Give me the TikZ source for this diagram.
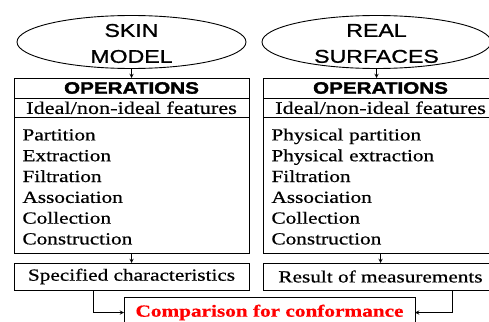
\documentclass[tikz,border=0pt]{standalone}
\usepackage{fontspec}
\setmainfont{Liberation Serif}[FakeStretch=1.25, FakeBold=0.6]
\newfontfamily\modelfont{Liberation Sans}[FakeStretch=1.25, FakeBold=1]
\newfontfamily\opsfont{Liberation Sans}[FakeStretch=1.25, UprightFont={* Bold}, FakeBold=2]
\usetikzlibrary{shapes,arrows,positioning}

\begin{document}
\begin{tikzpicture}[
    x=1pt, y=-1pt,
    every node/.style={outer sep=0pt},
    model/.style={ellipse, draw, line width=0.9pt, minimum width=229pt, minimum height=53pt, inner sep=0pt},
    modeltext/.style={align=center, inner sep=0pt, font=\modelfont\fontsize{18.5}{26}\selectfont},
    header/.style={rectangle, draw, line width=1pt, minimum width=235pt, minimum height=20pt, inner sep=0pt, font=\opsfont\fontsize{16.5}{18}\selectfont},
    feature/.style={rectangle, draw, line width=1pt, minimum width=235pt, minimum height=19.5pt, inner sep=0pt, font=\fontsize{17.8}{20}\selectfont},
    oplist/.style={rectangle, draw, line width=1pt, minimum height=135.5pt, text width=218pt, inner xsep=8.5pt, align=left, font=\fontsize{17}{20.8}\selectfont},
    outcome/.style={rectangle, draw, line width=1pt, minimum width=235pt, minimum height=27pt, inner sep=0pt, font=\fontsize{17}{20}\selectfont},
    verdict/.style={rectangle, draw, line width=1pt, minimum width=291pt, minimum height=31pt, inner sep=0pt, text=red, font=\bfseries\fontsize{17}{20}\selectfont},
    arrow/.style={->, >=stealth, line width=0.9pt}
]
\useasboundingbox (0,0) rectangle (489,321);
\clip (0,0) rectangle (489,321);

% the two sources
\node[model] (skin) at (131.5,42) {};
\node[modeltext] (skinname) at ([yshift=-1.5pt]skin) {SKIN\\MODEL};
\node[model] (real) at (376.5,42) {};
\node[modeltext] (realname) at ([yshift=-1.5pt]real) {REAL\\SURFACES};

% skin model column
\node[header] (opsL) at (131.5,88) {OPERATIONS};
\node[feature, below=0pt of opsL] (featL) {Ideal/non-ideal features};
\node[oplist, below=0pt of featL] (listL) {\strut Partition\\Extraction\\Filtration\\Association\\Collection\\Construction};
\node[outcome, below=10pt of listL] (specL) {Specified characteristics};

% real surfaces column
\node[header] (opsR) at (380.5,88) {OPERATIONS};
\node[feature, below=0pt of opsR] (featR) {Ideal/non-ideal features};
\node[oplist, below=0pt of featR] (listR) {\strut Physical partition\\Physical extraction\\Filtration\\Association\\Collection\\Construction};
\node[outcome, below=10pt of listR] (resR) {Result of measurements};

\node[verdict] (comp) at (269.5,312.5) {Comparison for conformance};

\draw[arrow] (skin) -- (opsL);
\draw[arrow] (real.south) -- (real.south |- opsR.north);
\draw[arrow] (listL) -- (specL);
\draw[arrow] (listR) -- (resR);
\draw[arrow] ([xshift=-38.5pt]specL.south) |- (comp.west);
\draw[arrow] ([xshift=71.5pt]resR.south) |- (comp.east);

\end{tikzpicture}
\end{document}
